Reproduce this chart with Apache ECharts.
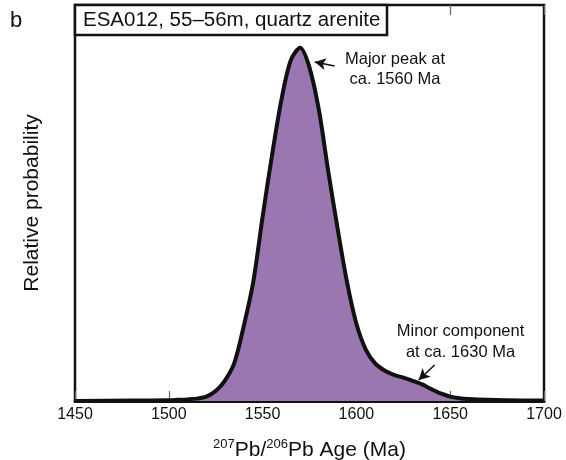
<!DOCTYPE html>
<html>
<head>
<meta charset="utf-8">
<script src="https://cdn.jsdelivr.net/npm/echarts@6/dist/echarts.min.js"></script>
<style>
  html, body { margin: 0; padding: 0; background: #fff; }
  #chart { width: 566px; height: 460px; }
</style>
</head>
<body>
<div id="chart"></div>
<script>
// Probability density of 207Pb/206Pb ages, sample ESA012
const ages = [1450, 1480, 1500, 1505, 1510, 1515, 1520, 1525, 1530, 1535,
  1540, 1545, 1550, 1555, 1560, 1565, 1570, 1575, 1580, 1585,
  1590, 1595, 1600, 1605, 1610, 1615, 1620, 1625, 1630, 1635,
  1640, 1645, 1650, 1655, 1660, 1670, 1680, 1700];
const probability = [0, 0.001, 0.002, 0.003, 0.004, 0.006, 0.011, 0.025, 0.052, 0.097,
  0.19, 0.30, 0.465, 0.62, 0.76, 0.86, 0.892, 0.842, 0.735, 0.58,
  0.435, 0.30, 0.195, 0.13, 0.095, 0.077, 0.066, 0.059, 0.051, 0.042,
  0.030, 0.019, 0.011, 0.007, 0.005, 0.003, 0.002, 0.001];

const xTicks = { min: 1450, max: 1700, step: 50 };

// Arrow pointers for the two annotated components: [tail, head] in data units
const majorArrow = [[1588.4, 0.846], [1577.8, 0.856]];
const minorArrow = [[1641.7, 0.091], [1633.2, 0.053]];

const fontFamily = '"Liberation Sans", Arial, sans-serif';
const chart = echarts.init(document.getElementById('chart'), null, { renderer: 'canvas' });

function makeTicks() {
  return { show: true, inside: true, length: 10, lineStyle: { color: '#666', width: 1.2 } };
}

chart.setOption({
  animation: false,
  backgroundColor: '#fff',
  textStyle: { fontFamily: fontFamily, color: '#111' },
  grid: {
    left: 75, right: 22, top: 5, bottom: 59,
    containLabel: false,
    outerBoundsMode: 'none',
    show: true, borderColor: '#111', borderWidth: 2.5, backgroundColor: 'transparent'
  },
  xAxis: [
    {
      type: 'value', position: 'bottom',
      min: xTicks.min, max: xTicks.max, interval: xTicks.step,
      axisLine: { show: true, lineStyle: { color: '#111', width: 3 } },
      axisTick: makeTicks(),
      splitLine: { show: false },
      axisLabel: {
        color: '#111', fontSize: 16, margin: 6, fontFamily: fontFamily,
        formatter: v => String(v)
      },
      name: '{sup|207}{main|Pb/}{sup|206}{main|Pb Age (Ma)}',
      nameLocation: 'middle',
      nameGap: 37,
      nameTextStyle: {
        rich: {
          main: { fontSize: 21, color: '#111', fontFamily: fontFamily, lineHeight: 24 },
          sup: { fontSize: 13, color: '#111', fontFamily: fontFamily, verticalAlign: 'top', lineHeight: 24 }
        }
      }
    },
    {
      type: 'value', position: 'top',
      min: xTicks.min, max: xTicks.max, interval: xTicks.step,
      axisLine: { show: false },
      axisTick: makeTicks(),
      axisLabel: { show: false },
      splitLine: { show: false }
    }
  ],
  yAxis: {
    type: 'value', min: 0, max: 1,
    axisLine: { show: false },
    axisTick: { show: false },
    axisLabel: { show: false },
    splitLine: { show: false },
    name: 'Relative probability',
    nameLocation: 'middle',
    nameRotate: 90,
    nameGap: 32,
    nameTextStyle: { fontSize: 21, color: '#111', fontFamily: fontFamily }
  },
  series: [
    {
      type: 'line',
      data: ages.map((a, i) => [a, probability[i]]),
      smooth: 0.3,
      showSymbol: false,
      symbol: 'none',
      lineStyle: { color: '#111', width: 4, join: 'round' },
      areaStyle: { color: '#9b77b2', opacity: 1 },
      z: 3,
      markLine: {
        silent: true,
        symbol: ['none', 'arrow'],
        symbolSize: [9, 11],
        label: { show: false },
        lineStyle: { color: '#111', width: 1.6, type: 'solid' },
        data: [
          [{ coord: majorArrow[0] }, { coord: majorArrow[1] }],
          [{ coord: minorArrow[0] }, { coord: minorArrow[1] }]
        ]
      }
    }
  ],
  graphic: [
    {
      type: 'text', left: 10, top: 10, z: 100,
      style: { text: 'b', font: '22px ' + fontFamily, fill: '#111' }
    },
    {
      type: 'group', z: 100,
      children: [
        {
          type: 'rect', shape: { x: 75, y: 5, width: 312, height: 30 },
          style: { fill: '#fff', stroke: '#111', lineWidth: 2.5 }, z: 100
        },
        {
          type: 'text', x: 83, y: 20, z: 101,
          style: {
            text: 'ESA012, 55\u201356m, quartz arenite',
            font: '20.5px ' + fontFamily, fill: '#111', textVerticalAlign: 'middle'
          }
        }
      ]
    },
    {
      type: 'text', x: 395, y: 69, z: 100,
      style: {
        text: 'Major peak at\nca. 1560 Ma',
        font: '16.5px ' + fontFamily, fill: '#111', lineHeight: 20,
        textAlign: 'center', textVerticalAlign: 'middle'
      }
    },
    {
      type: 'text', x: 460.5, y: 342, z: 100,
      style: {
        text: 'Minor component\nat ca. 1630 Ma',
        font: '16.5px ' + fontFamily, fill: '#111', lineHeight: 21,
        textAlign: 'center', textVerticalAlign: 'middle'
      }
    }
  ]
});
</script>
</body>
</html>
